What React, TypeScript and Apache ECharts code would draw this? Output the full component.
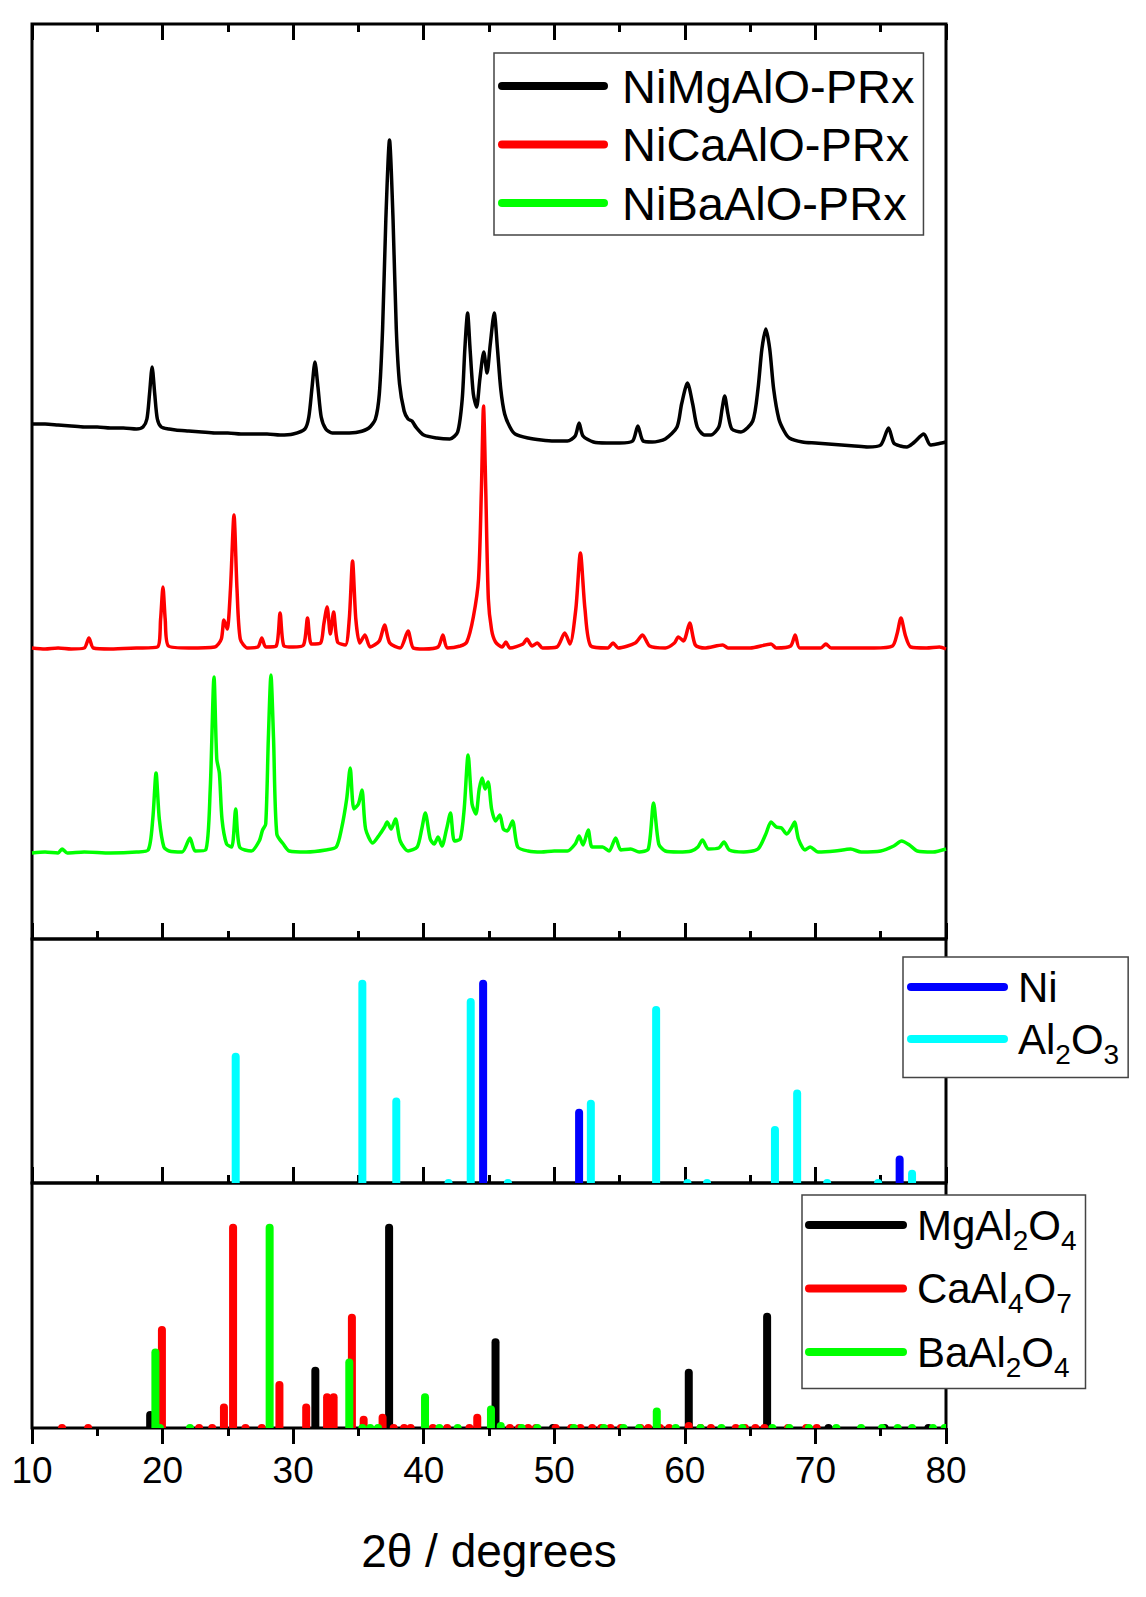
import { useEffect, useRef } from 'react';
import * as echarts from 'echarts';

const FONT = '"Liberation Sans", Arial, Helvetica, sans-serif';

// ---- axis ----
const xMin = 10;
const xMax = 80;
const xInterval = 10;
const xAxisTitle = '2θ / degrees';

// ---- measured patterns (2θ, intensity a.u.) ----
const sampleNames = ['NiMgAlO-PRx', 'NiCaAlO-PRx', 'NiBaAlO-PRx'];
const sampleColors = ['#000000', '#ff0000', '#00ff00'];

const niMgAlO_PRx: [number, number][] = [
  [10, 515], [11, 515], [12, 514], [13, 513], [14, 512], [15, 512], [16, 511], [17, 511], [18, 510],
  [18.5, 512], [18.8, 520], [19.0, 545], [19.2, 572], [19.4, 545], [19.6, 520], [19.9, 512],
  [20.5, 510], [21, 509], [22, 508], [23, 507], [24, 506], [25, 506], [26, 505], [27, 505], [28, 505],
  [29, 504], [30, 505], [30.9, 510], [31.2, 522], [31.45, 552], [31.67, 577], [31.9, 552], [32.15, 522],
  [32.5, 510], [33, 506], [34, 506], [35, 507], [35.8, 511], [36.3, 520], [36.6, 545], [36.85, 610],
  [37.1, 720], [37.38, 799], [37.65, 720], [37.9, 610], [38.15, 555], [38.5, 528], [38.8, 520],
  [39.1, 518], [39.4, 512], [40, 504], [41, 501], [42, 500], [42.6, 507], [42.95, 540], [43.15, 590],
  [43.36, 626], [43.55, 590], [43.8, 545], [44.05, 532], [44.3, 560], [44.6, 587], [44.85, 566],
  [45.1, 595], [45.4, 626], [45.65, 590], [45.9, 550], [46.2, 525], [46.6, 512], [47, 505], [48, 501],
  [49, 499], [50, 498], [51, 498], [51.6, 503], [51.9, 516], [52.2, 503], [53, 497], [54, 496],
  [55, 496], [56, 498], [56.4, 513], [56.8, 498], [57.5, 497], [58.5, 500], [59.4, 512], [59.75, 535],
  [60.2, 556], [60.6, 535], [60.95, 512], [61.5, 504], [62, 504], [62.6, 512], [62.85, 530],
  [63.05, 543], [63.3, 525], [63.6, 510], [64.3, 507], [65.2, 518], [65.6, 550], [65.9, 590],
  [66.2, 610], [66.5, 590], [66.8, 550], [67.2, 520], [67.6, 508], [68, 501], [69, 497], [70, 496],
  [71, 495], [72, 494], [73, 493], [74, 492], [75, 494], [75.6, 511], [76, 496], [76.5, 493],
  [77, 492], [77.5, 496], [78.3, 505], [78.8, 494], [79.3, 495], [80, 497],
];

const niCaAlO_PRx: [number, number][] = [
  [10, 291], [11, 290], [12, 291], [13, 290], [14.0, 291], [14.36, 301], [14.7, 291], [16, 290],
  [18, 291], [19.6, 292], [19.85, 320], [20.03, 352], [20.2, 320], [20.45, 293], [22, 291],
  [24, 292], [24.5, 300], [24.7, 319], [24.95, 310], [25.2, 350], [25.47, 424], [25.7, 350],
  [25.95, 300], [26.5, 291], [27.3, 292], [27.6, 301], [27.9, 292], [28.7, 293], [29.0, 326],
  [29.3, 293], [30, 292], [30.8, 294], [31.1, 321], [31.4, 295], [32.1, 296], [32.35, 315],
  [32.6, 332], [32.85, 305], [33.1, 327], [33.4, 297], [34.0, 294], [34.3, 320], [34.55, 378],
  [34.8, 320], [35.1, 296], [35.5, 304], [35.9, 292], [36.6, 298], [37.0, 314], [37.4, 296],
  [38.2, 291], [38.8, 308], [39.2, 291], [40, 290], [41.1, 292], [41.47, 304], [41.8, 291],
  [42.8, 293], [43.3, 297], [43.8, 322], [44.2, 360], [44.42, 450], [44.58, 533], [44.75, 450],
  [44.95, 340], [45.2, 309], [45.5, 297], [46.0, 292], [46.3, 297], [46.6, 291], [47.6, 295],
  [47.9, 300], [48.3, 293], [48.7, 296], [49.1, 291], [50.2, 292], [50.8, 306], [51.2, 295],
  [51.65, 330], [52.0, 386], [52.35, 330], [52.8, 293], [54.1, 291], [54.5, 296], [54.9, 291],
  [56.2, 296], [56.76, 304], [57.3, 293], [58.5, 291], [59.2, 296], [59.5, 302], [59.9, 298],
  [60.37, 316], [60.8, 294], [61.5, 291], [62.9, 294], [63.3, 291], [65, 291], [66.6, 295],
  [67.0, 291], [68.1, 293], [68.45, 304], [68.8, 291], [70.4, 291], [70.8, 295], [71.2, 291],
  [72.5, 291], [74.5, 291], [75.9, 293], [76.25, 305], [76.55, 321], [76.9, 303], [77.3, 292],
  [78.5, 291], [79.5, 292], [80, 290],
];

const niBaAlO_PRx: [number, number][] = [
  [10, 86], [11, 87], [12.0, 86], [12.3, 90], [12.7, 86], [14, 87], [16, 86], [18, 87], [18.9, 89],
  [19.25, 120], [19.5, 166], [19.75, 120], [20.1, 92], [20.5, 88], [21.5, 87], [22.1, 101], [22.5, 88],
  [23.3, 89], [23.65, 150], [23.94, 262], [24.15, 180], [24.35, 166], [24.55, 120], [24.9, 95],
  [25.3, 92], [25.6, 130], [25.9, 92], [26.8, 88], [27.4, 98], [27.66, 109], [27.9, 115],
  [28.1, 200], [28.3, 264], [28.5, 200], [28.75, 105], [29.3, 94], [29.7, 88], [31, 87], [32.5, 89],
  [33.3, 92], [33.7, 110], [34.1, 140], [34.37, 171], [34.65, 130], [35.0, 135], [35.27, 149],
  [35.55, 110], [36.1, 96], [36.6, 104], [37.0, 112], [37.2, 117], [37.5, 110], [37.84, 120],
  [38.2, 98], [38.8, 88], [39.5, 92], [39.85, 110], [40.12, 126], [40.5, 100], [40.8, 95],
  [41.1, 102], [41.4, 93], [41.75, 110], [42.05, 126], [42.35, 98], [42.8, 100], [43.1, 130],
  [43.4, 184], [43.7, 135], [44.0, 125], [44.25, 150], [44.48, 161], [44.7, 150], [44.93, 157],
  [45.2, 130], [45.5, 118], [45.83, 124], [46.1, 110], [46.4, 108], [46.8, 118], [47.2, 92],
  [48, 88], [49, 87], [50, 88], [51, 88], [51.6, 95], [51.9, 103], [52.2, 94], [52.6, 109],
  [52.9, 92], [53.7, 92], [54.2, 88], [54.7, 101], [55.1, 89], [55.85, 90], [56.5, 87], [57.2, 90],
  [57.6, 136], [58.0, 95], [58.5, 88], [59.5, 87], [60.5, 88], [61.0, 92], [61.35, 99], [61.8, 90],
  [62.6, 91], [63.0, 97], [63.4, 89], [64.5, 87], [65.6, 90], [66.2, 105], [66.6, 117], [67.0, 112],
  [67.4, 111], [67.8, 105], [68.2, 112], [68.4, 117], [68.7, 100], [69.2, 89], [69.6, 92], [70.2, 87],
  [71.5, 88], [72.7, 90], [73.5, 87], [75, 88], [76.0, 93], [76.6, 98], [77.2, 94], [77.8, 88],
  [79, 87], [80, 90],
];

// ---- reference patterns (2θ, relative intensity %) ----
const refNames1 = ['Ni', 'Al2O3'];
const refColors1 = ['#0000ff', '#00ffff'];
const refNi: [number, number][] = [[44.55, 100], [51.9, 36.5], [76.45, 13.5]];
const refAl2O3: [number, number][] = [
  [25.6, 64], [35.3, 100], [37.9, 42], [41.9, 2], [43.6, 91], [46.45, 2], [52.8, 41], [57.8, 87],
  [60.2, 1.5], [61.7, 2], [66.9, 28], [68.6, 46], [70.9, 1.5], [74.8, 1.5], [77.4, 6.5],
];

const refNames2 = ['MgAl2O4', 'CaAl4O7', 'BaAl2O4'];
const refColors2 = ['#000000', '#ff0000', '#00ff00'];
const refMgAl2O4: [number, number][] = [
  [19.05, 8.3], [31.7, 30], [37.35, 100], [45.5, 44], [49.9, 1.5], [60.3, 29], [66.3, 56.5],
  [71.0, 1.5], [75.3, 1.5], [78.65, 1.5],
];
const refCaAl4O7: [number, number][] = [
  [12.3, 2], [14.3, 2], [19.95, 50], [22.8, 2], [23.8, 2], [24.7, 12], [25.4, 100], [26.35, 2],
  [27.6, 2], [28.95, 23], [31.0, 12], [32.6, 17], [33.1, 17], [34.5, 56], [35.4, 6], [36.85, 7],
  [37.7, 2], [38.5, 2], [39.0, 2], [40.7, 2], [41.8, 2], [43.5, 2], [44.1, 7], [46.6, 2], [47.3, 2],
  [48.0, 2], [48.6, 2], [50.1, 2], [51.3, 2], [52.0, 2], [52.9, 2], [53.6, 2], [54.3, 2], [55.1, 2],
  [56.6, 2], [57.2, 2], [58.1, 2], [58.8, 2], [60.3, 3], [61.2, 2], [62.0, 2], [63.9, 2], [64.6, 2],
  [65.4, 2], [66.1, 2], [67.9, 2], [69.3, 2], [70.1, 2],
];
const refBaAl2O4: [number, number][] = [
  [19.45, 39], [19.8, 2], [22.1, 2], [28.2, 100], [34.3, 34], [35.3, 2], [35.9, 2], [36.5, 2],
  [40.1, 17], [41.2, 2], [42.6, 2], [45.15, 11], [45.9, 3], [47.5, 2], [48.7, 2], [51.5, 2],
  [53.8, 2], [55.3, 2], [56.5, 2], [57.85, 10], [59.3, 2], [61.2, 2], [62.8, 2], [64.4, 2],
  [66.7, 2], [68.0, 2], [69.5, 2], [71.6, 2], [73.5, 2], [75.1, 2], [76.3, 2], [77.4, 2], [79.0, 2],
  [79.9, 2],
];

const capsule = (w: number, h: number) => {
  const r = h / 2;
  return `path://M${r},0L${w - r},0A${r},${r},0,0,1,${w - r},${h}L${r},${h}A${r},${r},0,0,1,${r},0Z`;
};

const chemRich = (name: string) =>
  name.replace(/([A-Za-z]+)|(\d+)/g, (_m, letters, digits) => (letters ? `{a|${letters}}` : `{s|${digits}}`));

const richStyles = {
  a: { fontSize: 42, lineHeight: 46, verticalAlign: 'middle', fontFamily: FONT, color: '#000' },
  s: { fontSize: 28, lineHeight: 20, height: 16, verticalAlign: 'bottom', fontFamily: FONT, color: '#000' },
};

const stickSeries = (name: string, data: [number, number][], color: string, axisIndex: number) => ({
  type: 'custom',
  name,
  data,
  xAxisIndex: axisIndex + 1,
  yAxisIndex: axisIndex,
  clip: true,
  color,
  itemStyle: { color },
  encode: { x: 0, y: 1 },
  renderItem: (_params: any, api: any) => {
    const x = api.value(0) as number;
    const y = api.value(1) as number;
    const top = api.coord([x, y]);
    const base = api.coord([x, 0]);
    return {
      type: 'line',
      shape: { x1: base[0], y1: base[1] + 6, x2: top[0], y2: Math.min(top[1] + 4, base[1]) },
      style: { stroke: color, lineWidth: 8, lineCap: 'round' },
    };
  },
});

export default function App() {
  const ref = useRef<HTMLDivElement>(null);

  useEffect(() => {
    if (!ref.current) return;
    const chart = echarts.init(ref.current, undefined, { renderer: 'svg' });

    const gridCommon = {
      left: 32,
      width: 914,
      show: true,
      borderColor: '#000',
      borderWidth: 3,
      backgroundColor: 'transparent',
      outerBoundsMode: 'none',
      containLabel: false,
    };

    const tickStyle = { color: '#000', width: 3 };
    const xBase = {
      type: 'value',
      min: xMin,
      max: xMax,
      interval: xInterval,
      axisLine: { show: false },
      splitLine: { show: false },
      axisLabel: { show: false },
      axisTick: { show: true, inside: true, length: 16, lineStyle: tickStyle },
      minorTick: { show: true, splitNumber: 2, length: 8, lineStyle: tickStyle },
    };

    const legendBase = {
      orient: 'vertical',
      align: 'left',
      backgroundColor: '#fff',
      borderColor: '#444',
      borderWidth: 1.5,
      borderRadius: 0,
      itemHeight: 8,
    };

    const option: any = {
      animation: false,
      textStyle: { fontFamily: FONT },
      grid: [
        { ...gridCommon, top: 24, height: 915 },
        { ...gridCommon, top: 939, height: 244 },
        { ...gridCommon, top: 1183, height: 245 },
      ],
      xAxis: [
        { ...xBase, gridIndex: 0, position: 'bottom' },
        { ...xBase, gridIndex: 0, position: 'top' },
        { ...xBase, gridIndex: 1, position: 'bottom' },
        {
          ...xBase,
          gridIndex: 2,
          position: 'bottom',
          axisTick: { show: true, inside: false, length: 16, lineStyle: tickStyle },
          axisLabel: { show: true, fontSize: 37, color: '#000', margin: 24, fontFamily: FONT },
          name: xAxisTitle,
          nameLocation: 'middle',
          nameGap: 100,
          nameTextStyle: { fontSize: 46, color: '#000', fontFamily: FONT },
        },
      ],
      yAxis: [
        { type: 'value', gridIndex: 0, min: 0, max: 915, show: false },
        { type: 'value', gridIndex: 1, min: 0, max: 120, show: false },
        { type: 'value', gridIndex: 2, min: 0, max: 120, show: false },
      ],
      legend: [
        {
          ...legendBase,
          data: sampleNames,
          left: 494,
          top: 53,
          padding: [7, 9, 6, 4],
          itemGap: 6.5,
          itemWidth: 110,
          icon: capsule(110, 8),
          textStyle: { fontSize: 47, lineHeight: 52, color: '#000', fontFamily: FONT, padding: [0, 0, 0, 9] },
        },
        {
          ...legendBase,
          data: refNames1,
          left: 903,
          top: 957,
          padding: [9, 9, 9.5, 4],
          itemGap: 10,
          itemWidth: 101,
          icon: capsule(101, 8),
          formatter: chemRich,
          textStyle: { fontSize: 42, color: '#000', fontFamily: FONT, padding: [0, 0, 0, 5], rich: richStyles },
        },
        {
          ...legendBase,
          data: refNames2,
          left: 802,
          top: 1195,
          padding: [9, 9, 7.5, 3],
          itemGap: 13.5,
          itemWidth: 102,
          icon: capsule(102, 8),
          formatter: chemRich,
          textStyle: { fontSize: 42, color: '#000', fontFamily: FONT, padding: [0, 0, 0, 5], rich: richStyles },
        },
      ],
      series: [
        ...[niMgAlO_PRx, niCaAlO_PRx, niBaAlO_PRx].map((d, i) => ({
          type: 'line',
          name: sampleNames[i],
          data: d,
          xAxisIndex: 0,
          yAxisIndex: 0,
          showSymbol: false,
          symbol: 'none',
          smooth: 0.25,
          color: sampleColors[i],
          itemStyle: { color: sampleColors[i] },
          lineStyle: { color: sampleColors[i], width: 3.5 },
        })),
        stickSeries(refNames1[1], refAl2O3, refColors1[1], 1),
        stickSeries(refNames1[0], refNi, refColors1[0], 1),
        stickSeries(refNames2[0], refMgAl2O4, refColors2[0], 2),
        stickSeries(refNames2[1], refCaAl4O7, refColors2[1], 2),
        stickSeries(refNames2[2], refBaAl2O4, refColors2[2], 2),
      ],
    };

    chart.setOption(option);
    return () => chart.dispose();
  }, []);

  return (
    <div
      ref={ref}
      style={{ position: 'absolute', left: 0, top: 0, width: 1146, height: 1597, background: '#fff' }}
    />
  );
}
